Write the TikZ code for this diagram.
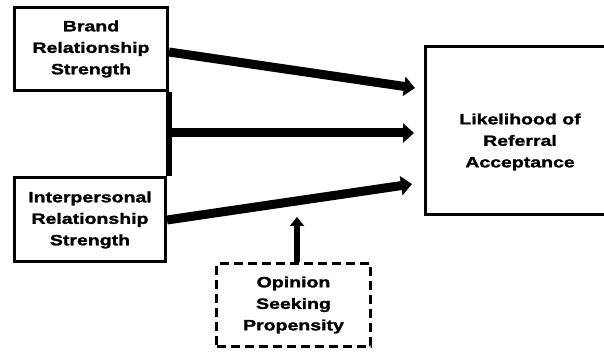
\documentclass[tikz,border=0pt]{standalone}
\usepackage{fontspec}
\newfontfamily\boxfont{Liberation Sans}[FakeStretch=1.3,FakeBold=1.6]
\usetikzlibrary{arrows.meta,positioning}

\begin{document}
\begin{tikzpicture}
  [x=1pt,y=-1pt,
   boxN/.style={draw,line width=3pt,inner sep=0pt,align=center,
     font=\boxfont\bfseries\fontsize{15}{21.5}\selectfont},
   dashN/.style={boxN,dash pattern=on 9pt off 5pt},
   bigArrow/.style={line width=9pt,-{Triangle[length=11pt,width=19pt]}},
   smallArrow/.style={line width=5.5pt,-{Triangle[length=9pt,width=14pt]}}]

  \useasboundingbox (0,0) rectangle (604,352);
  \clip (0,0) rectangle (604,352);

  \node[boxN,minimum width=153pt,minimum height=83pt]  (brand)   at (91,49)    {Brand\\Relationship\\Strength};
  \node[boxN,minimum width=151pt,minimum height=84pt]  (interp)  at (90,220)   {Interpersonal\\Relationship\\Strength};
  \node[dashN,minimum width=154pt,minimum height=82pt] (opinion) at (293.5,305) {Opinion\\Seeking\\Propensity};
  \node[boxN,minimum width=200pt,minimum height=168pt] (likely)  at (525.5,130.5) {};
  \node[align=center,inner sep=0pt,
    font=\boxfont\bfseries\fontsize{15}{21.5}\selectfont] (likeTxt) at (520,142) {Likelihood of\\Referral\\Acceptance};

  \coordinate (junction) at (170,133);
  \coordinate (tipTop)   at (415,88);
  \coordinate (tipMid)   at (414,133);
  \coordinate (tipBot)   at (412,184);
  \coordinate (tipUp)    at (297,217);

  \draw [line width=5.5pt] (brand.south east) -- (brand.south east |- interp.north);

  \draw [bigArrow] ([yshift=-3pt]brand.east) -- (tipTop);
  \draw [bigArrow] (junction) -- (tipMid);
  \draw [bigArrow] (interp.east) -- (tipBot);
  \draw [smallArrow] ([xshift=3.5pt]opinion.north) -- (tipUp);

\end{tikzpicture}
\end{document}
